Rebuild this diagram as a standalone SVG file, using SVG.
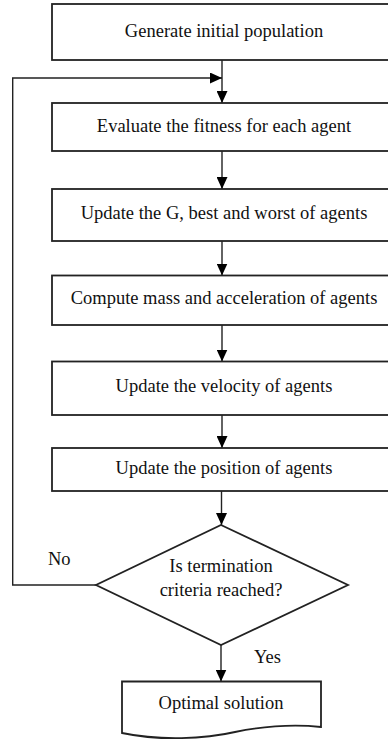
<svg xmlns="http://www.w3.org/2000/svg" width="388" height="740" viewBox="0 0 388 740">
<defs>
<marker id="ah" markerWidth="12" markerHeight="11" refX="12" refY="5.5" orient="auto" markerUnits="userSpaceOnUse">
<path d="M0,0 L12,5.5 L0,11 Z" fill="#000"/>
</marker>
<style>
.box{fill:#fff;stroke:#222;stroke-width:1.8}
.t{font-family:'Liberation Serif',serif;font-size:18.5px;fill:#111;text-anchor:middle}
.l{font-family:'Liberation Serif',serif;font-size:18.5px;fill:#111}
.c{fill:none;stroke:#222;stroke-width:1.4}
</style>
</defs>
<rect width="388" height="740" fill="#fff"/>
<g id="connectors">
<path class="c" d="M222,60 V103" marker-end="url(#ah)"/>
<path class="c" d="M96,585 H12.7 V78 H222" marker-end="url(#ah)"/>
<path class="c" d="M222,151 V189" marker-end="url(#ah)"/>
<path class="c" d="M222,241 V275.5" marker-end="url(#ah)"/>
<path class="c" d="M222,325 V361.5" marker-end="url(#ah)"/>
<path class="c" d="M222,415 V448" marker-end="url(#ah)"/>
<path class="c" d="M221.5,491 V525" marker-end="url(#ah)"/>
<path class="c" d="M221,645 V681.5" marker-end="url(#ah)"/>
<text class="l" x="48" y="565">No</text>
<text class="l" x="254" y="663">Yes</text>
</g>
<g id="n1">
<rect class="box" x="52" y="4" width="340" height="56"/>
<text class="t" x="224" y="37">Generate initial population</text>
</g>
<g id="n2">
<rect class="box" x="52" y="103" width="340" height="48"/>
<text class="t" x="224" y="132">Evaluate the fitness for each agent</text>
</g>
<g id="n3">
<rect class="box" x="52" y="189" width="340" height="52"/>
<text class="t" x="224" y="219">Update the G, best and worst of agents</text>
</g>
<g id="n4">
<rect class="box" x="52" y="275.5" width="340" height="49.5"/>
<text class="t" x="224" y="303.5">Compute mass and acceleration of agents</text>
</g>
<g id="n5">
<rect class="box" x="52" y="361.5" width="340" height="53.5"/>
<text class="t" x="224" y="392">Update the velocity of agents</text>
</g>
<g id="n6">
<rect class="box" x="52" y="448" width="340" height="43"/>
<text class="t" x="224" y="473.5">Update the position of agents</text>
</g>
<g id="n7">
<polygon class="box" points="221,525 348,585 221,645 96,585"/>
<text class="t" x="221" y="572">Is termination</text>
<text class="t" x="221" y="596">criteria reached?</text>
</g>
<g id="n8">
<path class="box" d="M122,681.5 H321 V727 C295,724 265,726 235,732 C205,739 160,741 122,733 Z"/>
<text class="t" x="221" y="709">Optimal solution</text>
</g>
</svg>
